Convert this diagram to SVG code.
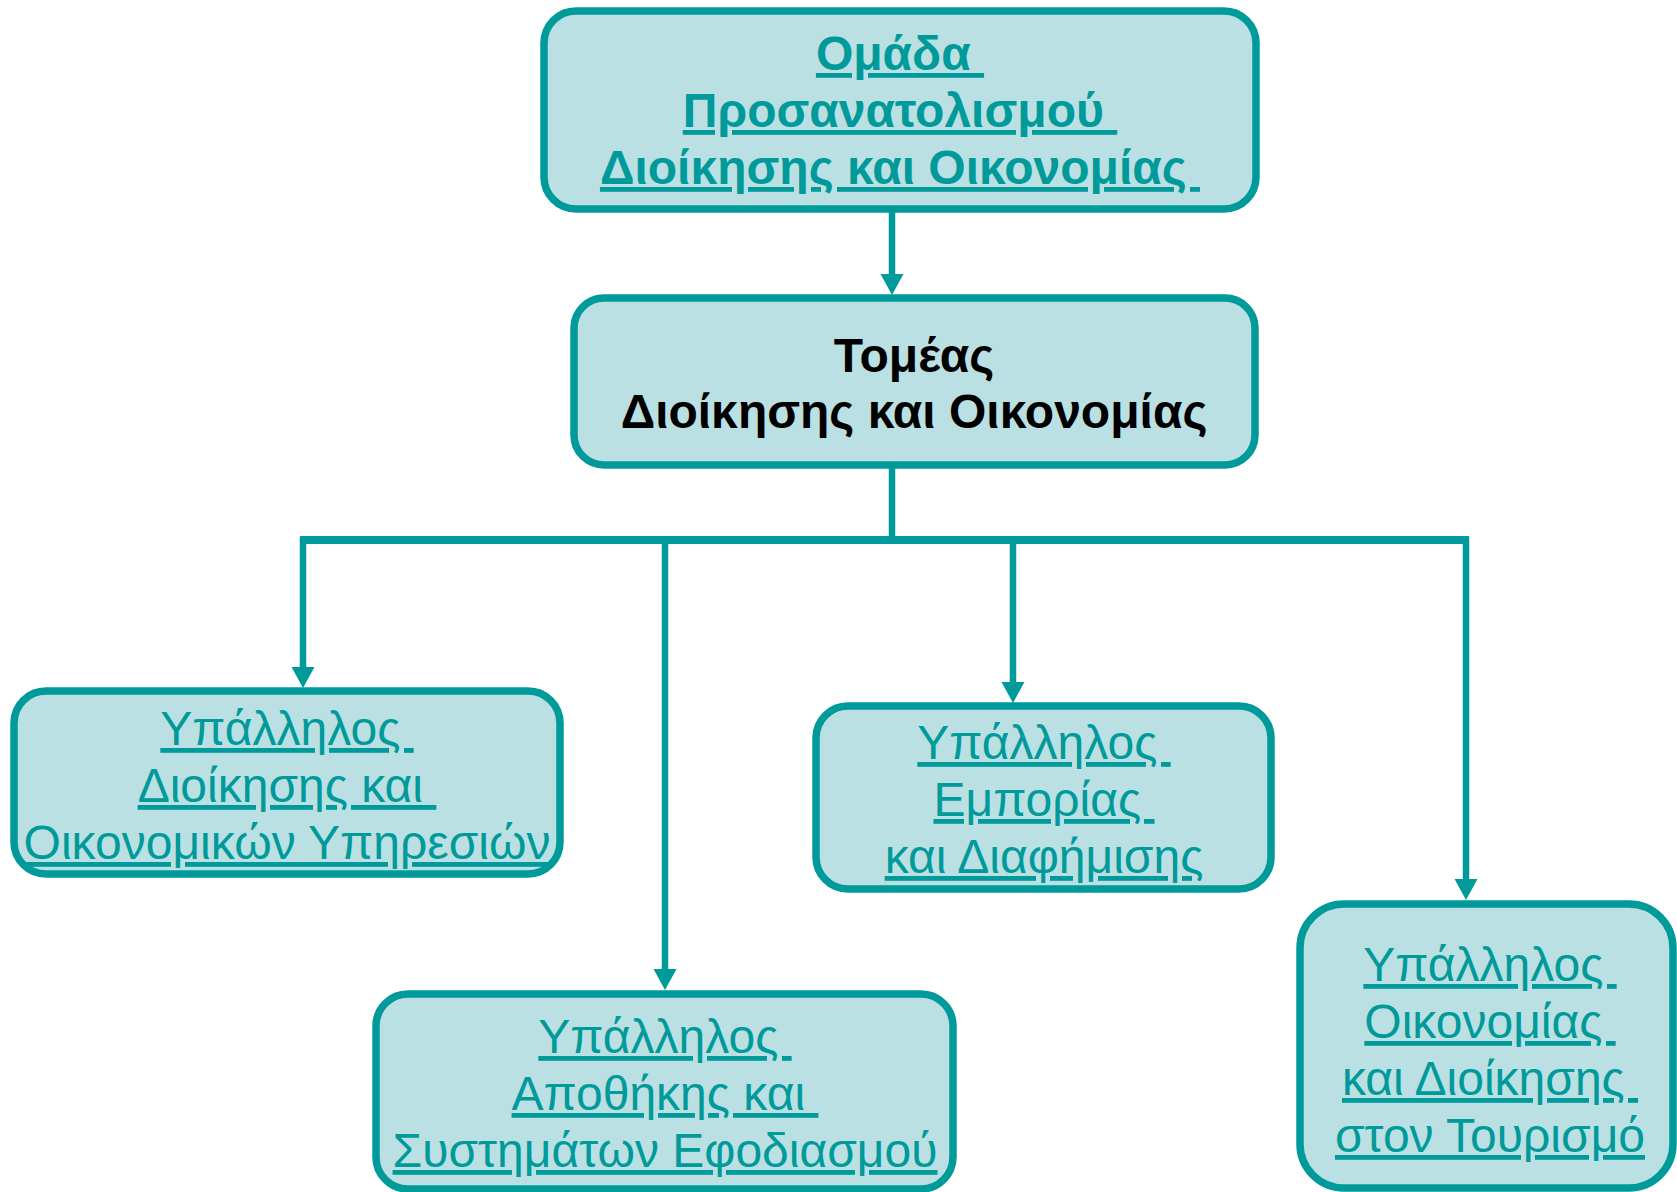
<svg xmlns="http://www.w3.org/2000/svg" width="1677" height="1192" viewBox="0 0 1677 1192">
<style>
.box{fill:#bae0e3;stroke:#009a9a;stroke-width:7.5}
.t{font-family:"Liberation Sans",Arial,sans-serif;font-size:48px;text-anchor:middle;white-space:pre}
.lnk{fill:#009a9a;text-decoration:underline}
.b{font-weight:bold}
.blk{fill:#000}
.c{fill:none;stroke:#009a9a;stroke-width:6.5}
.ah{fill:#009a9a}
</style>
<rect width="1677" height="1192" fill="#fff"/>
<g id="connectors">
<line class="c" x1="892" y1="209" x2="892" y2="276"/>
<path class="ah" d="M880.5,274 L903.5,274 L892,295 Z"/>
<line class="c" x1="892" y1="465" x2="892" y2="540"/>
<line class="c" x1="300" y1="540" x2="1469" y2="540" style="stroke-width:8"/>
<line class="c" x1="303" y1="537" x2="303" y2="670"/>
<path class="ah" d="M291.5,667 L314.5,667 L303,688 Z"/>
<line class="c" x1="665" y1="540" x2="665" y2="972"/>
<path class="ah" d="M653.5,969 L676.5,969 L665,990 Z"/>
<line class="c" x1="1013" y1="540" x2="1013" y2="685"/>
<path class="ah" d="M1001.5,682 L1024.5,682 L1013,703 Z"/>
<line class="c" x1="1466" y1="537" x2="1466" y2="882"/>
<path class="ah" d="M1454.5,879 L1477.5,879 L1466,900 Z"/>
</g>
<g id="n-omada">
<rect class="box" x="544" y="11" width="712" height="198" rx="32"/>
<text class="t b lnk" x="900" y="70">Ομάδα </text>
<text class="t b lnk" x="900" y="127">Προσανατολισμού </text>
<text class="t b lnk" x="900" y="184">Διοίκησης και Οικονομίας </text>
</g>
<g id="n-tomeas">
<rect class="box" x="574" y="298" width="681" height="167" rx="30"/>
<text class="t b blk" x="914" y="372">Τομέας</text>
<text class="t b blk" x="914" y="428">Διοίκησης και Οικονομίας</text>
</g>
<g id="n-dioikisis">
<rect class="box" x="14" y="691" width="546" height="183" rx="32"/>
<text class="t lnk" x="287" y="745">Υπάλληλος </text>
<text class="t lnk" x="287" y="802">Διοίκησης και </text>
<text class="t lnk" x="287" y="859">Οικονομικών Υπηρεσιών</text>
</g>
<g id="n-apothikis">
<rect class="box" x="376" y="994" width="577" height="195" rx="32"/>
<text class="t lnk" x="665" y="1053">Υπάλληλος </text>
<text class="t lnk" x="665" y="1110">Αποθήκης και </text>
<text class="t lnk" x="665" y="1167">Συστημάτων Εφοδιασμού</text>
</g>
<g id="n-emporias">
<rect class="box" x="816" y="706" width="455" height="183" rx="32"/>
<text class="t lnk" x="1044" y="759">Υπάλληλος </text>
<text class="t lnk" x="1044" y="816">Εμπορίας </text>
<text class="t lnk" x="1044" y="873">και Διαφήμισης</text>
</g>
<g id="n-tourismo">
<rect class="box" x="1300" y="904" width="373" height="284" rx="44"/>
<text class="t lnk" x="1490" y="981">Υπάλληλος </text>
<text class="t lnk" x="1490" y="1038">Οικονομίας </text>
<text class="t lnk" x="1490" y="1095">και Διοίκησης </text>
<text class="t lnk" x="1490" y="1152">στον Τουρισμό</text>
</g>
</svg>
